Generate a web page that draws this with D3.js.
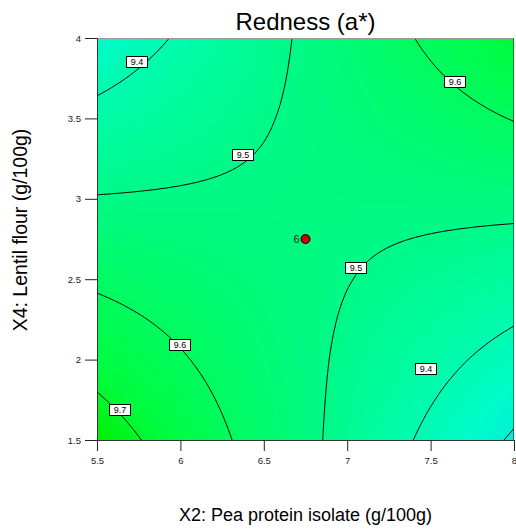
<!DOCTYPE html>
<html>
<head>
<meta charset="utf-8">
<script src="https://cdn.jsdelivr.net/npm/d3@7"></script>
<style>
  body { margin: 0; background: #fff; }
  svg { display: block; font-family: Arial, "Liberation Sans", sans-serif; }
</style>
</head>
<body>
<svg id="chart" width="516" height="529"></svg>
<script>
// Grid nodes at the tick marks (X2 pea protein, X4 lentil flour)
const pea = [5.5, 6, 6.5, 7, 7.5, 8];
const lentil = [1.5, 2, 2.5, 3, 3.5, 4];

// Redness (a*) read at each node, one row per lentil value (bottom to top)
const redness = [
  [9.749, 9.657, 9.565, 9.473, 9.381, 9.289],
  [9.667, 9.607, 9.547, 9.487, 9.427, 9.367],
  [9.586, 9.558, 9.530, 9.502, 9.474, 9.446],
  [9.504, 9.508, 9.512, 9.516, 9.520, 9.524],
  [9.423, 9.459, 9.495, 9.531, 9.567, 9.603],
  [9.341, 9.409, 9.477, 9.545, 9.613, 9.681]
];

const levels = [9.3, 9.4, 9.5, 9.6, 9.7];

// where each contour label sits
const contourLabels = [
  { value: '9.4', x: 5.739, y: 3.85 },
  { value: '9.6', x: 7.646, y: 3.726 },
  { value: '9.5', x: 6.373, y: 3.272 },
  { value: '9.5', x: 7.055, y: 2.57 },
  { value: '9.6', x: 6.0, y: 2.088 },
  { value: '9.7', x: 5.638, y: 1.686 },
  { value: '9.4', x: 7.474, y: 1.94 }
];

const designPoints = [{ x: 6.75, y: 2.75, runs: 6 }];

const xTicks = [5.5, 6, 6.5, 7, 7.5, 8];
const yTicks = [1.5, 2, 2.5, 3, 3.5, 4];

// colour stops for the fill
const colorStops = [9.28, 9.34, 9.5, 9.68, 9.75];
const colorRange = ['#00ecdc', '#00fcca', '#00fa88', '#00fc3c', '#00ee00'];

const margin = { top: 38, right: 2, bottom: 89, left: 97 };
const width = 516, height = 529;
const innerWidth = width - margin.left - margin.right;
const innerHeight = height - margin.top - margin.bottom;

const svg = d3.select('#chart');
const g = svg.append('g').attr('transform', `translate(${margin.left},${margin.top})`);

const xScale = d3.scaleLinear().domain([5.5, 8]).range([0, innerWidth]);
const yScale = d3.scaleLinear().domain([1.5, 4]).range([innerHeight, 0]);

// bilinear lookup inside the read grid (edge cells extend a little past the frame)
function lookup(px, py) {
  const i = Math.max(0, Math.min(pea.length - 2, d3.bisectRight(pea, px) - 1));
  const j = Math.max(0, Math.min(lentil.length - 2, d3.bisectRight(lentil, py) - 1));
  const tx = (px - pea[i]) / (pea[i + 1] - pea[i]);
  const ty = (py - lentil[j]) / (lentil[j + 1] - lentil[j]);
  return (1 - tx) * (1 - ty) * redness[j][i] + tx * (1 - ty) * redness[j][i + 1]
    + (1 - tx) * ty * redness[j + 1][i] + tx * ty * redness[j + 1][i + 1];
}

// sample field, slightly larger than the frame so strokes never hit the border
const nx = 160, ny = 160;
const xLo = 5.45, xHi = 8.05, yLo = 1.45, yHi = 4.05;
const values = new Array(nx * ny);
for (let r = 0; r < ny; r++) {
  const py = yHi - (r + 0.5) * (yHi - yLo) / ny;
  for (let c = 0; c < nx; c++) {
    const px = xLo + (c + 0.5) * (xHi - xLo) / nx;
    values[r * nx + c] = lookup(px, py);
  }
}

const projection = d3.geoTransform({
  point(x, y) {
    this.stream.point(
      xScale(xLo + x * (xHi - xLo) / nx),
      yScale(yHi - y * (yHi - yLo) / ny)
    );
  }
});
const path = d3.geoPath(projection);

const color = d3.scaleLinear()
  .domain(colorStops)
  .range(colorRange)
  .clamp(true);

svg.append('defs').append('clipPath').attr('id', 'plot-clip')
  .append('rect').attr('width', innerWidth).attr('height', innerHeight);

const plot = g.append('g').attr('clip-path', 'url(#plot-clip)');

// smooth colour fill, built from thin stacked bands
const step = 0.004;
const bandThresholds = d3.range(9.2, 9.82, step);
plot.append('rect')
  .attr('width', innerWidth)
  .attr('height', innerHeight)
  .attr('fill', color(9.2));

plot.append('g')
  .selectAll('path')
  .data(d3.contours().size([nx, ny]).thresholds(bandThresholds)(values))
  .join('path')
  .attr('d', path)
  .attr('fill', d => color(d.value + step / 2));

// contour lines
plot.append('g')
  .selectAll('path')
  .data(d3.contours().size([nx, ny]).thresholds(levels)(values))
  .join('path')
  .attr('d', path)
  .attr('fill', 'none')
  .attr('stroke', '#000')
  .attr('stroke-width', 1);

// contour labels (kept outside the clip group)
const labels = g.append('g')
  .selectAll('g')
  .data(contourLabels)
  .join('g')
  .attr('transform', d => `translate(${Math.round(xScale(d.x))},${Math.round(yScale(d.y))})`);

labels.append('rect')
  .attr('x', -10.5).attr('y', -5.5)
  .attr('width', 21).attr('height', 11)
  .attr('fill', '#fff')
  .attr('stroke', '#000')
  .attr('stroke-width', 1);

labels.append('text')
  .attr('text-anchor', 'middle')
  .attr('dy', '0.35em')
  .attr('font-size', 9)
  .attr('fill', '#000')
  .text(d => d.value);

// design point(s)
const pts = g.append('g')
  .selectAll('g')
  .data(designPoints)
  .join('g')
  .attr('transform', d => `translate(${xScale(d.x)},${yScale(d.y)})`);

pts.append('circle')
  .attr('r', 4.5)
  .attr('fill', '#c80000')
  .attr('stroke', '#000')
  .attr('stroke-width', 1);

pts.append('text')
  .attr('x', -6)
  .attr('dy', '0.36em')
  .attr('text-anchor', 'end')
  .attr('font-size', 11)
  .attr('fill', '#0e3018')
  .text(d => d.runs);

// frame: top and right edges
g.append('line')
  .attr('x1', 0).attr('x2', innerWidth).attr('y1', 0.5).attr('y2', 0.5)
  .attr('stroke', '#9a9a9a');
g.append('line')
  .attr('x1', innerWidth - 0.5).attr('x2', innerWidth - 0.5).attr('y1', 0).attr('y2', innerHeight)
  .attr('stroke', 'rgba(0,0,0,0.45)');

// axes
const xAxis = g.append('g')
  .attr('transform', `translate(0,${innerHeight})`)
  .call(d3.axisBottom(xScale).tickValues(xTicks).tickSize(11).tickSizeOuter(0).tickPadding(6)
    .tickFormat(d3.format('')));

const yAxis = g.append('g')
  .call(d3.axisLeft(yScale).tickValues(yTicks).tickSize(12).tickSizeOuter(0).tickPadding(4)
    .tickFormat(d3.format('')));

[xAxis, yAxis].forEach(ax => {
  ax.select('.domain').attr('stroke', '#333');
  ax.selectAll('.tick line').attr('stroke', '#222');
  ax.selectAll('.tick text')
    .attr('font-family', 'Arial, "Liberation Sans", sans-serif')
    .attr('font-size', 9.5)
    .attr('fill', '#222');
});

// title and axis titles
svg.append('text')
  .attr('x', margin.left + innerWidth / 2)
  .attr('y', 30)
  .attr('text-anchor', 'middle')
  .attr('font-size', 24)
  .attr('fill', '#000')
  .text('Redness (a*)');

svg.append('text')
  .attr('x', margin.left + innerWidth / 2)
  .attr('y', 521)
  .attr('text-anchor', 'middle')
  .attr('font-size', 18)
  .attr('fill', '#000')
  .text('X2: Pea protein isolate (g/100g)');

svg.append('text')
  .attr('transform', `translate(27,${margin.top + innerHeight / 2 - 9}) rotate(-90)`)
  .attr('text-anchor', 'middle')
  .attr('font-size', 19.5)
  .attr('fill', '#000')
  .text('X4: Lentil flour (g/100g)');
</script>
</body>
</html>
